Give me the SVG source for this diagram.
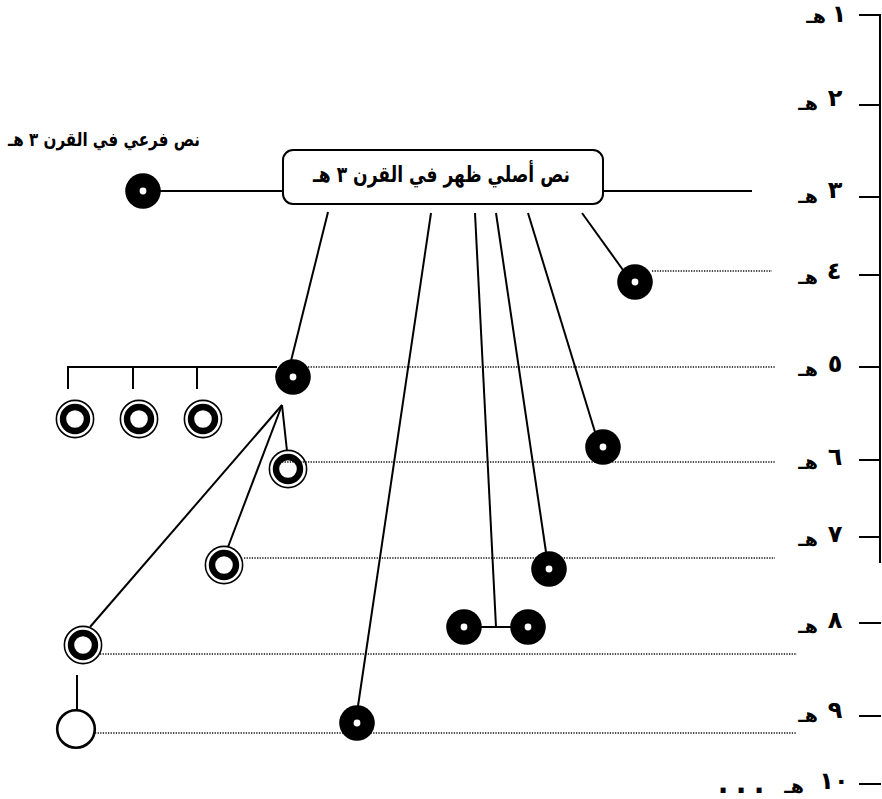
<svg xmlns="http://www.w3.org/2000/svg" width="882" height="799" viewBox="0 0 882 799">
<style>
.ln{stroke:#000;stroke-width:2;fill:none}
.dot{stroke:#111;stroke-width:1.5;stroke-dasharray:1.3 1.3;fill:none}
.t{font-family:"DejaVu Sans","Liberation Sans",sans-serif;font-weight:bold;fill:#000;text-anchor:middle}
.num{font-size:24px}
.hh{font-size:19px}
</style>
<defs>
<g id="solid"><circle r="17.8" fill="#000"/><circle r="3.4" fill="#fff"/></g>
<g id="ring"><circle r="18.6" fill="none" stroke="#000" stroke-width="1.6"/><circle r="12" fill="none" stroke="#000" stroke-width="6.4"/></g>
</defs>
<rect width="882" height="799" fill="#fff"/>

<g id="dotted-lines">
<line class="dot" x1="652" y1="271" x2="772" y2="271"/>
<line class="dot" x1="308" y1="367" x2="775" y2="367"/>
<line class="dot" x1="282" y1="462" x2="775" y2="462"/>
<line class="dot" x1="244" y1="558" x2="775" y2="558"/>
<line class="dot" x1="100" y1="654" x2="797" y2="654"/>
<line class="dot" x1="95" y1="733" x2="797" y2="733"/>
</g>

<g id="axis">
<line class="ln" x1="880" y1="14" x2="880" y2="563"/>
<line class="ln" x1="859" y1="15" x2="881" y2="15"/>
<line class="ln" x1="859" y1="105" x2="881" y2="105"/>
<line class="ln" x1="859" y1="197" x2="881" y2="197"/>
<line class="ln" x1="859" y1="275" x2="881" y2="275"/>
<line class="ln" x1="859" y1="367" x2="881" y2="367"/>
<line class="ln" x1="859" y1="460" x2="881" y2="460"/>
<line class="ln" x1="859" y1="537" x2="881" y2="537"/>
<line class="ln" x1="859" y1="623" x2="881" y2="623"/>
<line class="ln" x1="859" y1="716" x2="881" y2="716"/>
<line class="ln" x1="859" y1="784" x2="881" y2="784"/>
<text class="t num" x="839" y="22">١</text><text class="t hh" x="816" y="23">هـ</text>
<text class="t num" x="835" y="106">٢</text><text class="t hh" x="808" y="110">هـ</text>
<text class="t num" x="835" y="198">٣</text><text class="t hh" x="808" y="203">هـ</text>
<text class="t num" x="834" y="279">٤</text><text class="t hh" x="808" y="284">هـ</text>
<text class="t num" x="835" y="372">٥</text><text class="t hh" x="808" y="376">هـ</text>
<text class="t num" x="835" y="465">٦</text><text class="t hh" x="808" y="469">هـ</text>
<text class="t num" x="835" y="542">٧</text><text class="t hh" x="808" y="546">هـ</text>
<text class="t num" x="835" y="628">٨</text><text class="t hh" x="808" y="633">هـ</text>
<text class="t num" x="835" y="718">٩</text><text class="t hh" x="808" y="722">هـ</text>
<text class="t num" x="834" y="789">١٠</text><text class="t hh" x="794" y="793">هـ</text>
<text class="t" font-size="28" x="723 741 759" y="793">...</text>
</g>

<g id="connectors">
<line class="ln" x1="160" y1="191" x2="284" y2="191"/>
<line class="ln" x1="603" y1="191" x2="752" y2="191"/>
<line class="ln" x1="328" y1="212" x2="291" y2="361"/>
<line class="ln" x1="431" y1="213" x2="358" y2="706"/>
<line class="ln" x1="475" y1="213" x2="496" y2="627"/>
<line class="ln" x1="464" y1="627" x2="528" y2="627"/>
<line class="ln" x1="496" y1="213" x2="546" y2="552"/>
<line class="ln" x1="528" y1="213" x2="595" y2="432"/>
<line class="ln" x1="582" y1="213" x2="623" y2="270"/>
<line class="ln" x1="68" y1="367" x2="277" y2="367"/>
<line class="ln" x1="68" y1="366" x2="68" y2="389"/>
<line class="ln" x1="133" y1="366" x2="133" y2="389"/>
<line class="ln" x1="197" y1="366" x2="197" y2="389"/>
<line class="ln" x1="282" y1="405" x2="287" y2="451"/>
<line class="ln" x1="282" y1="405" x2="228" y2="547"/>
<line class="ln" x1="282" y1="405" x2="90" y2="627"/>
<line class="ln" x1="77" y1="675" x2="77" y2="711"/>
</g>

<g id="main-text">
<rect x="283" y="150" width="320" height="54" rx="10" ry="10" fill="#fff" stroke="#000" stroke-width="2"/>
<text class="t" x="441.5" y="182" font-size="22" direction="rtl" textLength="257" lengthAdjust="spacingAndGlyphs">نص أصلي ظهر في القرن ٣ هـ</text>
</g>
<g id="branch-3">
<text class="t" x="104" y="146" font-size="19" direction="rtl" textLength="192" lengthAdjust="spacingAndGlyphs">نص فرعي في القرن ٣ هـ</text>
<use href="#solid" x="143" y="191"/>
</g>
<g id="n4"><use href="#solid" x="635" y="282"/></g>
<g id="n5"><use href="#solid" x="293" y="377"/></g>
<g id="n5a"><use href="#ring" x="75" y="419"/></g>
<g id="n5b"><use href="#ring" x="139" y="419"/></g>
<g id="n5c"><use href="#ring" x="203" y="419"/></g>
<g id="n6a"><use href="#ring" x="288" y="469"/></g>
<g id="n6b"><use href="#solid" x="603" y="447"/></g>
<g id="n7a"><use href="#ring" x="224" y="565"/></g>
<g id="n7b"><use href="#solid" x="549" y="569"/></g>
<g id="n8a"><use href="#ring" x="83" y="645"/></g>
<g id="n8b"><use href="#solid" x="464" y="627"/></g>
<g id="n8c"><use href="#solid" x="528" y="627"/></g>
<g id="n9a"><circle cx="76" cy="729" r="18.8" fill="none" stroke="#000" stroke-width="2.6"/></g>
<g id="n9b"><use href="#solid" x="357" y="723"/></g>
</svg>
